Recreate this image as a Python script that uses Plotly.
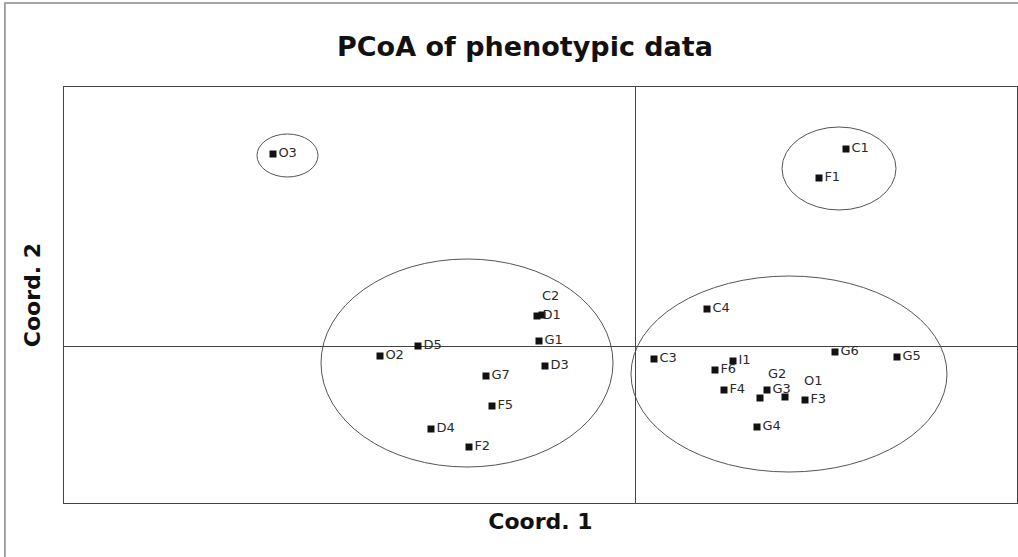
import plotly.graph_objects as go

# Sample labels and PCoA coordinates (Coord. 1, Coord. 2)
labels = ["O3", "C1", "F1", "C2", "D1", "G1", "D5", "O2", "D3", "G7", "F5", "D4", "F2",
          "C4", "C3", "I1", "F6", "G6", "G5", "F4", "G2", "G3", "O1", "F3", "G4"]
coord1 = [-0.362, 0.211, 0.184, -0.093, -0.098, -0.096, -0.217, -0.255, -0.090, -0.149, -0.143, -0.204, -0.166,
          0.072, 0.019, 0.098, 0.080, 0.200, 0.262, 0.089, 0.125, 0.132, 0.150, 0.170, 0.122]
coord2 = [0.192, 0.197, 0.168, 0.031, 0.030, 0.005, 0.000, -0.010, -0.020, -0.030, -0.060, -0.083, -0.101,
          0.037, -0.013, -0.015, -0.024, -0.006, -0.011, -0.044, -0.052, -0.044, -0.051, -0.054, -0.081]

# labels that were moved off their default right-hand position (pixel offsets)
moved_labels = {"C2": (8, 20), "G2": (17, 25), "O1": (28, 17)}

# Cluster ellipses: (x0, x1, y0, y1) in data units
ellipse_x0 = [-0.378, 0.147, -0.314, -0.004]
ellipse_x1 = [-0.317, 0.261, -0.022, 0.312]
ellipse_y0 = [0.169, 0.136, -0.121, -0.126]
ellipse_y1 = [0.212, 0.219, 0.087, 0.070]

x_range = [-0.571, 0.382]
y_range = [-0.157, 0.259]

label_font = dict(family="DejaVu Sans", size=13, color="#2a2a2a")
texts = ["" if l in moved_labels else l for l in labels]

fig = go.Figure()
fig.add_trace(go.Scatter(
    x=coord1, y=coord2, mode="markers+text", text=texts,
    textposition="middle right", textfont=label_font,
    marker=dict(symbol="square", size=7, color="#111111"),
    cliponaxis=False, showlegend=False, hovertext=labels, hoverinfo="text"))

for name, (dx, dy) in moved_labels.items():
    i = labels.index(name)
    fig.add_annotation(x=coord1[i], y=coord2[i], text=name, showarrow=False,
                       xshift=dx, yshift=dy, font=label_font)

for a, b, c, d in zip(ellipse_x0, ellipse_x1, ellipse_y0, ellipse_y1):
    fig.add_shape(type="circle", xref="x", yref="y", x0=a, x1=b, y0=c, y1=d,
                  line=dict(color="#555555", width=1), layer="below")

# outer chart border
fig.add_shape(type="rect", xref="paper", yref="paper", x0=-0.062, x1=1.02, y0=-0.3, y1=1.202,
              line=dict(color="#8a8a8a", width=1.5))

title_font = dict(family="DejaVu Sans", size=27, color="#111111")
axis_font = dict(family="DejaVu Sans", size=22, color="#111111")

fig.update_layout(
    width=1018, height=557,
    margin=dict(l=64, r=1, t=87, b=54),
    paper_bgcolor="white", plot_bgcolor="white",
    title=dict(text="<b>PCoA of phenotypic data</b>", x=525 / 1018, xanchor="center",
               y=1 - 47 / 557, yanchor="middle", font=title_font),
    xaxis=dict(range=x_range, showgrid=False, showticklabels=False, ticks="",
               zeroline=True, zerolinecolor="#444444", zerolinewidth=1,
               showline=True, mirror=True, linecolor="#444444", linewidth=1,
               title=dict(text="<b>Coord. 1</b>", standoff=10, font=axis_font)),
    yaxis=dict(range=y_range, showgrid=False, showticklabels=False, ticks="",
               zeroline=True, zerolinecolor="#444444", zerolinewidth=1,
               showline=True, mirror=True, linecolor="#444444", linewidth=1,
               title=dict(text="<b>Coord. 2</b>", standoff=16, font=axis_font)),
)

fig.write_html("out.html")
